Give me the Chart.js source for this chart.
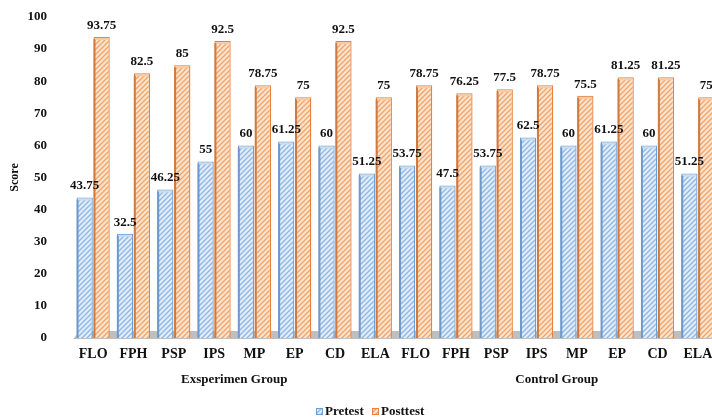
<!DOCTYPE html>
<html>
<head>
<meta charset="utf-8">
<script src="https://cdn.jsdelivr.net/npm/chart.js@4.4.1/dist/chart.umd.min.js"></script>
<style>
  html, body { margin: 0; padding: 0; background: #fff; overflow: hidden; }
  #wrap { width: 712px; height: 420px; overflow: hidden; }
</style>
</head>
<body>
<div id="wrap"><canvas id="scoreChart" width="750" height="420"></canvas></div>
<script>
// pretest / posttest scores per aspect, experimental group first then control group
const ASPECTS = ["FLO", "FPH", "PSP", "IPS", "MP", "EP", "CD", "ELA"];
const GROUPS = ["Exsperimen Group", "Control Group"];
const PRETEST = [43.75, 32.5, 46.25, 55, 60, 61.25, 60, 51.25,
                 53.75, 47.5, 53.75, 62.5, 60, 61.25, 60, 51.25];
const POSTTEST = [93.75, 82.5, 85, 92.5, 78.75, 75, 92.5, 75,
                  78.75, 76.25, 77.5, 78.75, 75.5, 81.25, 81.25, 75];
const Y_TICKS = [0, 10, 20, 30, 40, 50, 60, 70, 80, 90, 100];

const LABELS = GROUPS.flatMap(() => ASPECTS);
const FONT = "'Liberation Serif', 'Times New Roman', serif";

const STYLE = {
  pre: { bg: "#e2edf9", stripe: "#8fb8e4", border: "#6b9fd5", side: "#6f99c8", cap: "#c9ddf2" },
  post: { bg: "#fde4cf", stripe: "#f0a56c", border: "#e8823e", side: "#cf7a40", cap: "#f9caa4" },
};

function hatch(style) {
  const c = document.createElement("canvas");
  c.width = 5; c.height = 5;
  const g = c.getContext("2d");
  g.fillStyle = style.bg;
  g.fillRect(0, 0, 5, 5);
  g.strokeStyle = style.stripe;
  g.lineWidth = 1.4;
  g.beginPath();
  g.moveTo(-1, 6); g.lineTo(6, -1);
  g.moveTo(-1, 1); g.lineTo(1, -1);
  g.moveTo(4, 6); g.lineTo(6, 4);
  g.stroke();
  return g.createPattern(c, "repeat");
}

const prePattern = hatch(STYLE.pre);
const postPattern = hatch(STYLE.post);

// gray floor under the bars plus side and top faces on each bar
const depthPlugin = {
  id: "depth",
  beforeDatasetsDraw(chart) {
    const { ctx, chartArea } = chart;
    const y0 = chart.scales.y.getPixelForValue(0);
    ctx.save();
    ctx.fillStyle = "#bfbfbf";
    ctx.beginPath();
    ctx.moveTo(chartArea.left, y0 + 1);
    ctx.lineTo(chartArea.right, y0 + 1);
    ctx.lineTo(chartArea.right + 7, y0 - 7);
    ctx.lineTo(chartArea.left + 7, y0 - 7);
    ctx.closePath();
    ctx.fill();
    ctx.restore();
  },
  afterDatasetsDraw(chart) {
    const { ctx } = chart;
    ctx.save();
    chart.data.datasets.forEach((ds, i) => {
      const st = i === 0 ? STYLE.pre : STYLE.post;
      chart.getDatasetMeta(i).data.forEach((bar) => {
        const left = bar.x - bar.width / 2;
        const right = bar.x + bar.width / 2;
        ctx.fillStyle = st.side;
        ctx.fillRect(left, bar.y + 2, 2, bar.base - bar.y - 2);
        ctx.fillStyle = st.cap;
        ctx.beginPath();
        ctx.moveTo(left + 1, bar.y + 1);
        ctx.lineTo(right - 1, bar.y + 1);
        ctx.lineTo(right - 2, bar.y + 3);
        ctx.lineTo(left + 2, bar.y + 3);
        ctx.closePath();
        ctx.fill();
      });
    });
    ctx.restore();
  },
};

// value above each bar, group names under the categories, legend at the bottom
const textPlugin = {
  id: "texts",
  afterDraw(chart) {
    const { ctx } = chart;
    ctx.save();
    ctx.fillStyle = "#111";
    ctx.textAlign = "center";
    ctx.textBaseline = "bottom";
    ctx.font = `bold 13px ${FONT}`;
    chart.data.datasets.forEach((ds, i) => {
      chart.getDatasetMeta(i).data.forEach((bar, j) => {
        ctx.fillText(String(ds.data[j]), bar.x, bar.y - 5);
      });
    });

    const x = chart.scales.x;
    ctx.font = `bold 13px ${FONT}`;
    ctx.textBaseline = "middle";
    GROUPS.forEach((name, g) => {
      const first = x.getPixelForValue(g * ASPECTS.length);
      const last = x.getPixelForValue(g * ASPECTS.length + ASPECTS.length - 1);
      ctx.fillText(name, (first + last) / 2, 380);
    });

    const items = [
      { text: "Pretest", pattern: prePattern, st: STYLE.pre, x: 316 },
      { text: "Posttest", pattern: postPattern, st: STYLE.post, x: 372 },
    ];
    ctx.textAlign = "left";
    ctx.font = `bold 13px ${FONT}`;
    items.forEach((it) => {
      ctx.fillStyle = it.pattern;
      ctx.fillRect(it.x, 408, 7, 7);
      ctx.strokeStyle = it.st.border;
      ctx.lineWidth = 1;
      ctx.strokeRect(it.x + 0.5, 408.5, 6, 6);
      ctx.fillStyle = "#111";
      ctx.fillText(it.text, it.x + 9, 412);
    });
    ctx.restore();
  },
};

new Chart(document.getElementById("scoreChart"), {
  type: "bar",
  data: {
    labels: LABELS,
    datasets: [
      { label: "Pretest", data: PRETEST, backgroundColor: prePattern, borderColor: STYLE.pre.border, borderWidth: 1.3 },
      { label: "Posttest", data: POSTTEST, backgroundColor: postPattern, borderColor: STYLE.post.border, borderWidth: 1.3 },
    ],
  },
  options: {
    responsive: false,
    animation: false,
    layout: { padding: { top: 17, right: 32, left: 0, bottom: 0 } },
    datasets: { bar: { categoryPercentage: 0.84, barPercentage: 0.96 } },
    plugins: { legend: { display: false }, tooltip: { enabled: false } },
    scales: {
      x: {
        grid: { display: false, drawTicks: false },
        border: { display: false },
        ticks: { color: "#111", font: { family: FONT, weight: "bold", size: 14 }, padding: 8, maxRotation: 0, autoSkip: false },
        afterFit(scale) { scale.height = 82; },
      },
      y: {
        min: 0,
        max: 100,
        afterBuildTicks(scale) { scale.ticks = Y_TICKS.map((value) => ({ value })); },
        // hidden tick marks only reserve room between the labels and the bars
        grid: { display: false, drawTicks: true, tickLength: 22 },
        border: { display: false },
        ticks: { color: "#111", font: { family: FONT, weight: "bold", size: 13 }, padding: 4 },
        title: { display: true, text: "Score", color: "#111", font: { family: FONT, weight: "bold", size: 12 }, padding: { top: 8, bottom: 0 } },
        afterFit(scale) { scale.width = 73; },
      },
    },
  },
  plugins: [depthPlugin, textPlugin],
});
</script>
</body>
</html>
